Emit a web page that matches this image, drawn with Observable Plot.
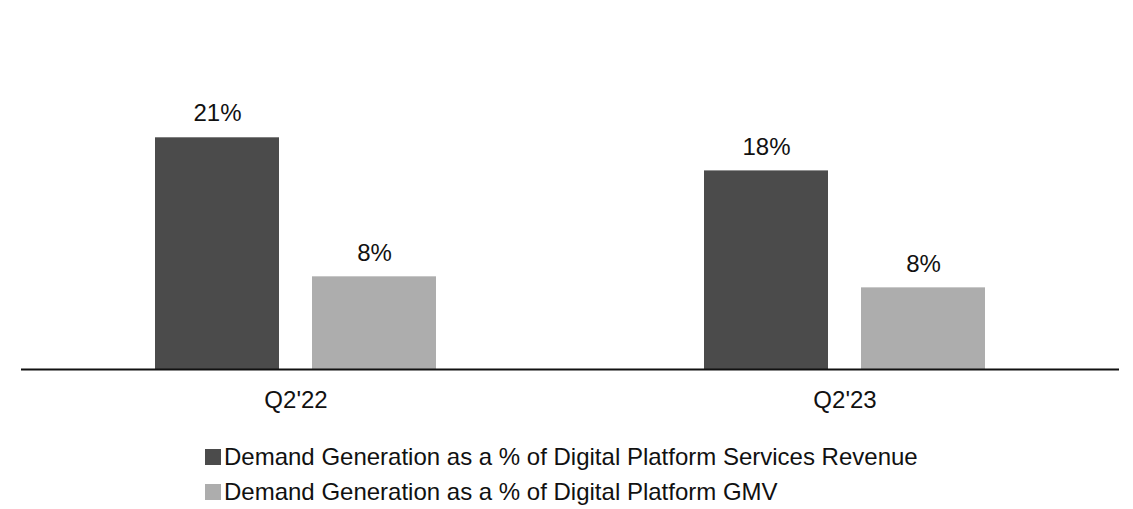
<!DOCTYPE html>
<html>
<head>
<meta charset="utf-8">
<script src="https://cdn.jsdelivr.net/npm/d3@7"></script>
<script src="https://cdn.jsdelivr.net/npm/@observablehq/plot@0.6"></script>
<style>
  body { margin: 0; background: #fff; font-family: "Liberation Sans", Arial, sans-serif; }
  #legend { padding-left: 205px; padding-top: 14px; }
  .row { display: flex; align-items: center; height: 35px; font-size: 24px; color: #111; }
  .sw { width: 16px; height: 16px; margin-right: 3px; }
</style>
</head>
<body>
<div id="chart"></div>
<div id="legend"></div>
<script>
const periods = ["Q2'22", "Q2'23"];
const seriesNames = [
  "Demand Generation as a % of Digital Platform Services Revenue",
  "Demand Generation as a % of Digital Platform GMV"
];
const revenueShare = [21, 18];
const gmvShare = [8.4, 7.4];
const revenueLabels = ["21%", "18%"];
const gmvLabels = ["8%", "8%"];
const colors = ["#4b4b4b", "#adadad"];

const data = [];
periods.forEach((p, i) => {
  data.push({period: p, series: seriesNames[0], value: revenueShare[i], label: revenueLabels[i]});
  data.push({period: p, series: seriesNames[1], value: gmvShare[i], label: gmvLabels[i]});
});

const chart = Plot.plot({
  width: 1133,
  height: 425,
  marginLeft: 20,
  marginRight: 14,
  marginTop: 38,
  marginBottom: 56,
  style: {fontFamily: "Liberation Sans, Arial, sans-serif", fontSize: "24px", color: "#111"},
  fx: {domain: periods, padding: 0, label: null},
  x: {domain: seriesNames, paddingInner: 0.21, paddingOuter: 0.845, axis: null},
  y: {domain: [0, 30], axis: null},
  color: {domain: seriesNames, range: colors},
  marks: [
    Plot.barY(data, {fx: "period", x: "series", y: "value", fill: "series"}),
    Plot.text(data, {fx: "period", x: "series", y: "value", text: "label", dy: -24, fontSize: 24, fill: "#111"}),
    Plot.ruleY([0], {stroke: "#111", strokeWidth: 2}),
    Plot.axisFx({anchor: "bottom", tickSize: 0, tickPadding: 21, fontSize: 24, label: null, color: "#111"})
  ]
});
document.getElementById("chart").appendChild(chart);

const legend = document.getElementById("legend");
seriesNames.forEach((s, i) => {
  const row = document.createElement("div");
  row.className = "row";
  const sw = document.createElement("div");
  sw.className = "sw";
  sw.style.background = colors[i];
  const t = document.createElement("span");
  t.textContent = s;
  row.appendChild(sw);
  row.appendChild(t);
  legend.appendChild(row);
});
</script>
</body>
</html>
